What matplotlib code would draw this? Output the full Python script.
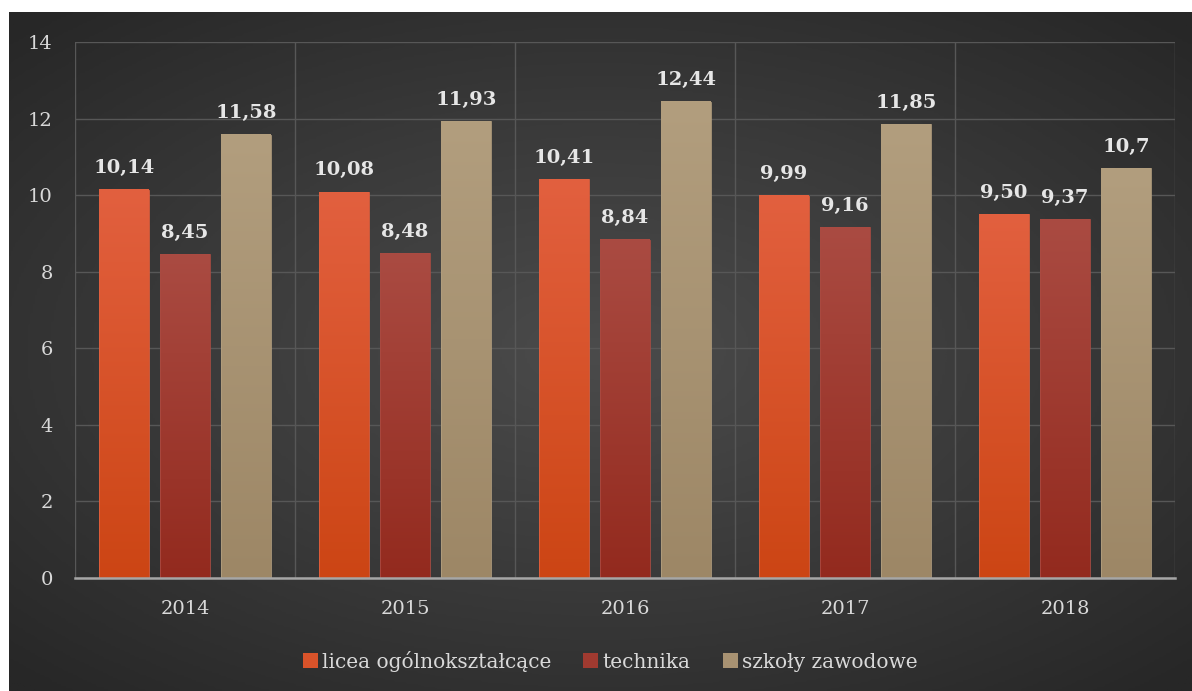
import numpy as np
import matplotlib
matplotlib.use("Agg")
from matplotlib import pyplot as plt
from matplotlib.patches import Patch, Rectangle
from matplotlib.colors import LinearSegmentedColormap

# dane z wykresu
years = ["2014", "2015", "2016", "2017", "2018"]
licea = [10.14, 10.08, 10.41, 9.99, 9.50]
technika = [8.45, 8.48, 8.84, 9.16, 9.37]
zawodowe = [11.58, 11.93, 12.44, 11.85, 10.7]
labels_licea = ["10,14", "10,08", "10,41", "9,99", "9,50"]
labels_technika = ["8,45", "8,48", "8,84", "9,16", "9,37"]
labels_zawodowe = ["11,58", "11,93", "12,44", "11,85", "10,7"]
series_names = ["licea ogólnokształcące", "technika", "szkoły zawodowe"]

# kolory (dół, góra) gradientu słupków
grads = [("#cc4514", "#e2603f"), ("#932a1e", "#aa4b42"), ("#9d8766", "#b29e7e")]
legend_colors = ["#d9532a", "#a03a30", "#a89272"]

W, H = 1192, 691
fig = plt.figure(figsize=(W / 100, H / 100), dpi=100)
fig.patch.set_facecolor("white")

# tło z gradientem radialnym
bg = fig.add_axes([9 / W, 0, (W - 9) / W, (H - 12) / H])
bg.set_axis_off()
yy, xx = np.mgrid[-1:1:300j, -1:1:500j]
r = np.sqrt((xx * 0.95) ** 2 + (yy * 1.0) ** 2)
bgcmap = LinearSegmentedColormap.from_list("bg", ["#4b4b4b", "#3a3a3a", "#272727"])
bg.imshow(r, cmap=bgcmap, aspect="auto", extent=(0, 1, 0, 1), vmin=0.0, vmax=1.35)
bg.set_xlim(0, 1)
bg.set_ylim(0, 1)

ax = fig.add_axes([75 / W, (H - 578) / H, 1100 / W, (578 - 42) / H])
ax.patch.set_alpha(0)

font = "DejaVu Serif"
x = np.arange(len(years))
width = 0.227
offsets = [-0.277, 0.0, 0.277]
all_vals = [licea, technika, zawodowe]
all_labels = [labels_licea, labels_technika, labels_zawodowe]

grad = np.linspace(0, 1, 256).reshape(-1, 1)
for vals, labs, off, (c0, c1) in zip(all_vals, all_labels, offsets, grads):
    cmap = LinearSegmentedColormap.from_list("g", [c0, c1])
    for xi, v, lab in zip(x, vals, labs):
        x0 = xi + off - width / 2
        ax.imshow(grad, cmap=cmap, origin="lower", aspect="auto",
                  extent=(x0, x0 + width, 0, v), zorder=3)
        ax.add_patch(Rectangle((x0, 0), width, v, fill=False,
                               edgecolor=c1, linewidth=0.6, zorder=4))
        ax.text(xi + off, v + 0.33, lab, ha="center", va="bottom",
                fontsize=14, fontweight="bold", color="#e6e6e6",
                family=font, zorder=5)

ax.set_xlim(-0.5, len(years) - 0.5)
ax.set_ylim(0, 14)
ax.set_yticks(np.arange(0, 15, 2))
ax.set_xticks(x)
ax.set_xticklabels(years)
ax.set_xticks(np.arange(-0.5, len(years)), minor=True)

ax.grid(axis="y", which="major", color="#575757", linewidth=1.0, zorder=0)
ax.grid(axis="x", which="minor", color="#575757", linewidth=1.0, zorder=0)
ax.grid(axis="x", which="major", visible=False)
ax.set_axisbelow(True)

for s in ["top", "right", "left"]:
    ax.spines[s].set_visible(False)
ax.spines["bottom"].set_color("#a6a6a6")
ax.spines["bottom"].set_linewidth(1.8)
ax.spines["bottom"].set_zorder(6)

ax.tick_params(axis="both", which="both", length=0, colors="#d9d9d9",
               labelsize=14)
ax.tick_params(axis="y", pad=16)
ax.tick_params(axis="x", pad=16)
for t in ax.get_xticklabels() + ax.get_yticklabels():
    t.set_family(font)

handles = [Patch(facecolor=c, edgecolor="none") for c in legend_colors]
fig.legend(handles, series_names, loc="center", bbox_to_anchor=(610 / W, 30 / H),
           ncol=3, frameon=False, prop={"family": font, "size": 14.5},
           labelcolor="#d9d9d9", handlelength=0.75, handleheight=0.75,
           handletextpad=0.2, columnspacing=1.6)

fig.savefig("out.png", dpi=100)
